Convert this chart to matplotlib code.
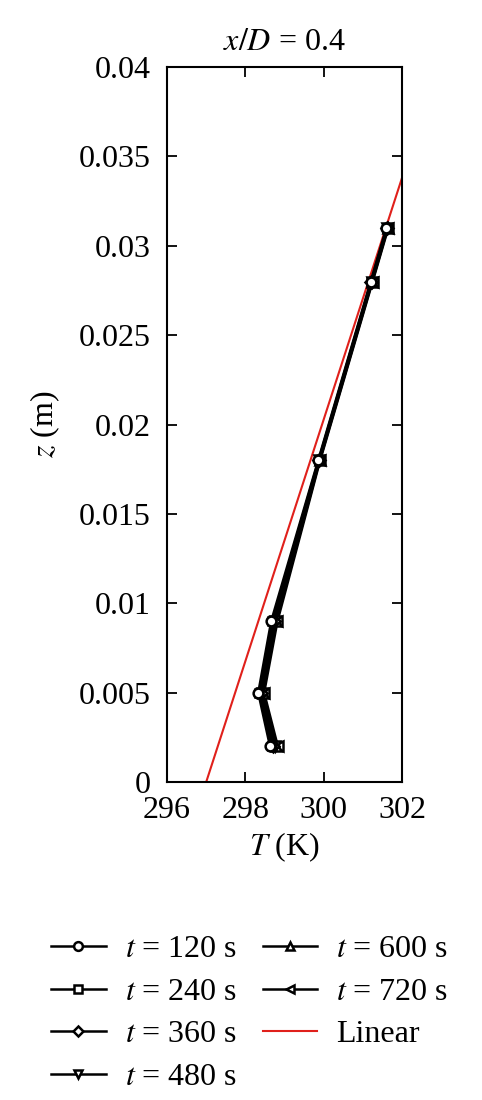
import numpy as np
import matplotlib
matplotlib.use("Agg")
import matplotlib.pyplot as plt
from matplotlib.ticker import FuncFormatter

# Heights above the bottom (m) and temperatures (K)
z = [0.002, 0.005, 0.009, 0.018, 0.028, 0.031]
times = [120, 240, 360, 480, 600, 720]
T_120 = [298.63, 298.33, 298.66, 299.86, 301.20, 301.60]
T_240 = [298.67, 298.36, 298.69, 299.87, 301.21, 301.61]
T_360 = [298.71, 298.39, 298.73, 299.88, 301.22, 301.62]
T_480 = [298.75, 298.42, 298.76, 299.89, 301.23, 301.63]
T_600 = [298.79, 298.45, 298.79, 299.90, 301.24, 301.64]
T_720 = [298.83, 298.48, 298.82, 299.91, 301.25, 301.65]
T_lin = [297.0, 302.0]
z_lin = [0.0, 0.0338]

plt.rcParams['font.family'] = ['Liberation Serif', 'DejaVu Serif']
plt.rcParams['mathtext.fontset'] = 'stix'
fs = 23

fig = plt.figure(figsize=(4.82, 11), dpi=100)
ax = fig.add_axes([0.3465, 0.289, 0.4875, 0.65])

series = [T_120, T_240, T_360, T_480, T_600, T_720]
markers = ['o', 's', 'D', 'v', '^', '<']
msizes = [7, 6, 6, 7, 7, 7]
n = len(series)
for i, (t, T, m, ms) in enumerate(zip(times, series, markers, msizes)):
    # earliest time drawn on top, as in the original
    ax.plot(T, z, color='black', lw=1.8, marker=m, ms=ms, mfc='white',
            mec='black', mew=1.8, label=r'$t$ = %d s' % t, zorder=3 + n - i)
ax.plot(T_lin, z_lin, color='#e0201b', lw=1.5, label='Linear', zorder=2)

ax.set_xlim(296, 302)
ax.set_ylim(0, 0.04)
ax.set_xticks([296, 298, 300, 302])
ax.set_yticks(np.arange(0, 0.0401, 0.005))
ax.yaxis.set_major_formatter(FuncFormatter(lambda v, p: '%g' % round(v, 4)))
ax.tick_params(direction='in', top=True, right=True, length=7, width=1.3,
               labelsize=fs)
ax.tick_params(axis='y', pad=12)
ax.tick_params(axis='x', pad=10)
for s in ax.spines.values():
    s.set_linewidth(1.5)

ax.set_xlabel(r'$T$ (K)', fontsize=fs, labelpad=4)
ax.set_ylabel(r'$z$ (m)', fontsize=fs, labelpad=12)
ax.set_title(r'$x/D$ = 0.4', fontsize=fs, pad=12)

# legend in two columns under the axes
handles, labels = ax.get_legend_handles_labels()
fig.legend(handles, labels, ncol=2, loc='upper left',
           bbox_to_anchor=(0.08, 0.162), frameon=False, fontsize=fs,
           handlelength=1.7, columnspacing=0.8, labelspacing=0.42,
           handletextpad=0.6, markerscale=0.9, borderaxespad=0)

fig.savefig('out.png', dpi=100)
